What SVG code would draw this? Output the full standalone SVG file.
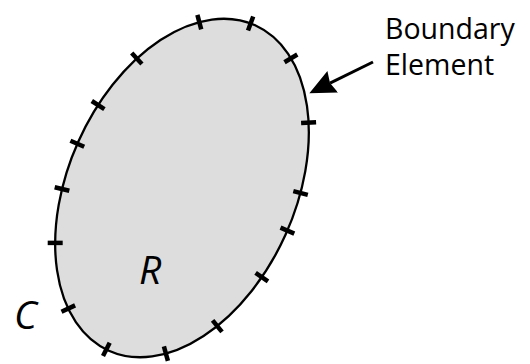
<svg xmlns="http://www.w3.org/2000/svg" width="530" height="364" viewBox="0 0 530 364">
  <style>
    .region { fill: #dddddd; stroke: #000; stroke-width: 2.3; }
    .tick { stroke: #000; stroke-width: 4.5; fill: none; }
    .label { font-family: "Open Sans", "Noto Sans", "Liberation Sans", sans-serif; fill: #000; }
    .var { font-family: "Open Sans", "Noto Sans", "Liberation Sans", sans-serif; font-style: italic; font-size: 39px; fill: #000; }
    .arrow { stroke: #000; stroke-width: 3; fill: none; }
  </style>
  <defs>
    <marker id="head" markerUnits="userSpaceOnUse" viewBox="0 0 26 24" markerWidth="26" markerHeight="24" refX="3" refY="12" orient="auto">
      <path d="M0,0 L26,12 L0,24 L3,12 Z" fill="#000"/>
    </marker>
  </defs>
  <rect width="530" height="364" fill="#fff"/>
  <g id="region">
    <ellipse class="region" cx="182" cy="188" rx="113.6" ry="178.4" transform="rotate(24.2 182 188)"/>
    <g id="elements">
      <line class="tick" x1="197.4" y1="14.9" x2="201.2" y2="29.4"/>
      <line class="tick" x1="253.2" y1="16.5" x2="248.0" y2="30.5"/>
      <line class="tick" x1="297.3" y1="54.5" x2="284.5" y2="62.2"/>
      <line class="tick" x1="316.1" y1="122.3" x2="301.1" y2="123.1"/>
      <line class="tick" x1="307.8" y1="194.9" x2="293.3" y2="191.1"/>
      <line class="tick" x1="294.3" y1="233.6" x2="280.5" y2="227.6"/>
      <line class="tick" x1="268.0" y1="281.3" x2="255.6" y2="272.9"/>
      <line class="tick" x1="222.0" y1="331.9" x2="212.6" y2="320.3"/>
      <line class="tick" x1="167.9" y1="360.8" x2="163.9" y2="346.4"/>
      <line class="tick" x1="103.0" y1="356.1" x2="109.7" y2="342.7"/>
      <line class="tick" x1="61.5" y1="311.8" x2="75.1" y2="305.4"/>
      <line class="tick" x1="47.7" y1="242.9" x2="62.7" y2="242.9"/>
      <line class="tick" x1="54.7" y1="187.2" x2="69.3" y2="190.8"/>
      <line class="tick" x1="70.4" y1="140.7" x2="84.2" y2="146.7"/>
      <line class="tick" x1="91.8" y1="101.0" x2="104.4" y2="109.2"/>
      <line class="tick" x1="131.7" y1="53.0" x2="141.9" y2="64.0"/>
    </g>
  </g>
  <g id="label-R">
    <text class="var" x="139" y="284">R</text>
  </g>
  <g id="label-C">
    <text class="var" x="14" y="329">C</text>
  </g>
  <g id="label-boundary">
    <text class="label" font-size="28.5" x="385" y="39">Boundary</text>
    <text class="label" font-size="28.5" x="385" y="75">Element</text>
  </g>
  <g id="connectors">
    <line class="arrow" x1="373" y1="62" x2="330" y2="83.1" marker-end="url(#head)"/>
  </g>
</svg>
